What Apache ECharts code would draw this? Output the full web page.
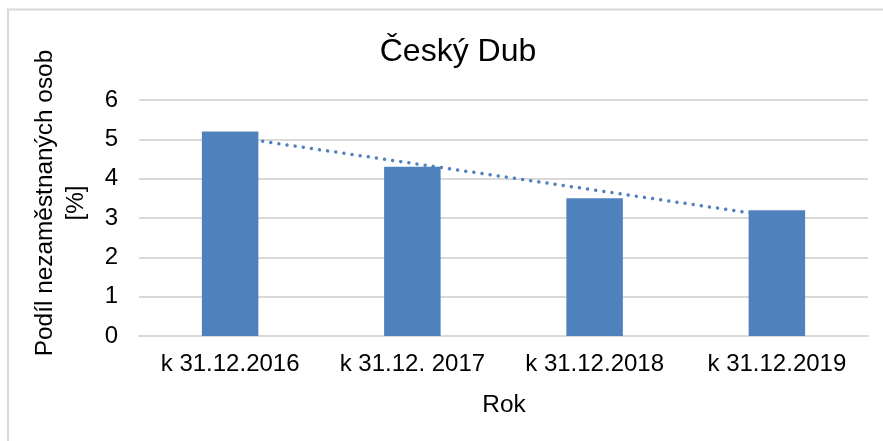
<!DOCTYPE html>
<html>
<head>
<meta charset="utf-8">
<script src="https://cdn.jsdelivr.net/npm/echarts@6/dist/echarts.min.js"></script>
<style>
html,body{margin:0;padding:0;background:#fff;}
#chart{width:883px;height:441px;}
</style>
</head>
<body>
<div id="chart"></div>
<script>
var chartTitle = 'Český Dub';
var categories = ['k 31.12.2016', 'k 31.12. 2017', 'k 31.12.2018', 'k 31.12.2019'];
var shareValues = [5.2, 4.3, 3.5, 3.2];
var trendValues = [5.07, 4.39, 3.71, 3.03];
var yTicks = [0, 1, 2, 3, 4, 5, 6];
var yAxisTitle = ['Podíl nezaměstnaných osob', '[%]'];
var xAxisTitle = 'Rok';

var FONT = '"Liberation Sans", Arial, sans-serif';
var chart = echarts.init(document.getElementById('chart'), null, {renderer: 'canvas'});
chart.setOption({
  animation: false,
  backgroundColor: '#fff',
  textStyle: {fontFamily: FONT},
  title: {
    text: chartTitle,
    left: 453, top: 31, textAlign: 'center',
    textStyle: {fontFamily: FONT, fontSize: 32, fontWeight: 'normal', color: '#000'}
  },
  grid: {left: 139, right: 15, top: 100, bottom: 105, containLabel: false},
  xAxis: {
    type: 'category',
    data: categories,
    axisLine: {show: true, lineStyle: {color: '#d9d9d9', width: 2}},
    axisTick: {show: false},
    axisLabel: {fontSize: 24, color: '#000', margin: 16, fontFamily: FONT, interval: 0, hideOverlap: false},
    splitLine: {show: false}
  },
  yAxis: {
    type: 'value',
    min: yTicks[0], max: yTicks[yTicks.length - 1], interval: 1,
    axisLine: {show: false},
    axisTick: {show: false},
    axisLabel: {fontSize: 24, color: '#000', margin: 21, fontFamily: FONT},
    splitLine: {lineStyle: {color: '#d9d9d9', width: 2}}
  },
  series: [
    {
      type: 'line',
      data: trendValues,
      z: 1,
      symbol: 'none',
      silent: true,
      lineStyle: {color: '#4f81bd', width: 3.5, type: [0.01, 8.2], cap: 'round'}
    },
    {
      type: 'bar',
      data: shareValues,
      z: 3,
      barWidth: '31%',
      itemStyle: {color: '#4f81bd'}
    }
  ],
  graphic: [
    {
      type: 'rect', z: -10, silent: true,
      shape: {x: 8, y: 9.5, width: 1000, height: 1000},
      style: {fill: 'none', stroke: '#d9d9d9', lineWidth: 2}
    },
    {
      type: 'text', silent: true,
      x: 45, y: 203, rotation: Math.PI / 2,
      style: {text: yAxisTitle[0], fontFamily: FONT, fontSize: 24.4, fill: '#000', align: 'center', verticalAlign: 'middle'}
    },
    {
      type: 'text', silent: true,
      x: 76, y: 203, rotation: Math.PI / 2,
      style: {text: yAxisTitle[1], fontFamily: FONT, fontSize: 24.4, fill: '#000', align: 'center', verticalAlign: 'middle'}
    },
    {
      type: 'text', silent: true,
      x: 504, y: 405,
      style: {text: xAxisTitle, fontFamily: FONT, fontSize: 24.4, fill: '#000', align: 'center', verticalAlign: 'middle'}
    }
  ]
});
</script>
</body>
</html>
